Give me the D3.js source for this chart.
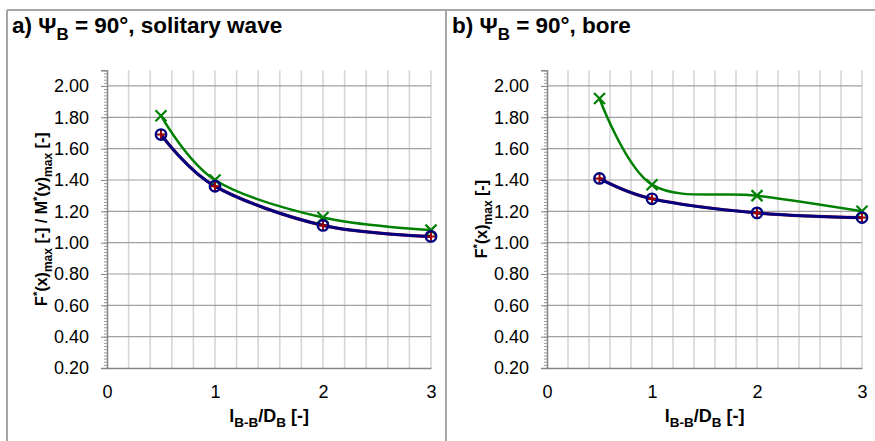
<!DOCTYPE html>
<html>
<head>
<meta charset="utf-8">
<script src="https://cdn.jsdelivr.net/npm/d3@7"></script>
<style>
  body { margin: 0; background: #fff; }
  svg { display: block; font-family: Arial, "Liberation Sans", sans-serif; }
</style>
</head>
<body>
<script>
// data
const xValues = [0.5, 1, 2, 3];
const xTicks = [0, 1, 2, 3];
const yTicks = [0.2, 0.4, 0.6, 0.8, 1.0, 1.2, 1.4, 1.6, 1.8, 2.0];

// panel a) solitary wave
const aGreen = [1.81, 1.40, 1.16, 1.08];
const aBlue  = [1.69, 1.36, 1.11, 1.04];
const aRed   = [1.69, 1.36, 1.11, 1.04];

// panel b) bore
const bGreen = [1.92, 1.37, 1.30, 1.20];
const bBlue  = [1.41, 1.28, 1.19, 1.16];
const bRed   = [1.41, 1.28, 1.19, 1.16];

const W = 875, H = 441;

const svg = d3.select("body").append("svg")
    .attr("width", W)
    .attr("height", H);

// panel frames
const frame = svg.append("g")
    .attr("stroke", "#a6a6a6")
    .attr("stroke-width", 2)
    .attr("fill", "none");
frame.append("line").attr("x1", 7).attr("x2", W).attr("y1", 10).attr("y2", 10);
frame.append("line").attr("x1", 7).attr("x2", 7).attr("y1", 10).attr("y2", H);
frame.append("line").attr("x1", 446).attr("x2", 446).attr("y1", 10).attr("y2", H);

function richText(sel, parts, size) {
  // parts: [text, kind] with kind "", "sub", "sup"
  let shift = 0;
  parts.forEach(function(p) {
    let target = 0, fs = size;
    if (p[1] === "sub") { target = size * 0.3; fs = size * 0.75; }
    if (p[1] === "sup") { target = -size * 0.4; fs = size * 0.72; }
    sel.append("tspan")
        .attr("dy", target - shift)
        .attr("font-size", fs)
        .text(p[0]);
    shift = target;
  });
}

function drawPanel(opt) {
  const g = svg.append("g");

  const x = d3.scaleLinear().domain([0, 3]).range([opt.left, opt.right]);
  const y = d3.scaleLinear().domain([0.2, 2.1]).range([368, 70.3]);

  // title
  const title = g.append("text")
      .attr("x", opt.titleX)
      .attr("y", 33)
      .attr("font-size", 22.5)
      .attr("font-weight", "bold")
      .attr("fill", "#000");
  richText(title, [[opt.titleA, ""], ["B", "sub"], [opt.titleB, ""]], 22.5);

  // vertical minor gridlines every 0.2
  g.append("g")
    .selectAll("line")
    .data(d3.range(1, 16).map(function(i) { return i * 0.2; }))
    .enter().append("line")
      .attr("x1", function(d) { return x(d); })
      .attr("x2", function(d) { return x(d); })
      .attr("y1", y(2.1))
      .attr("y2", y(0.2))
      .attr("stroke", "#d4d4d4")
      .attr("stroke-width", 1.5);

  // horizontal major gridlines
  g.append("g")
    .selectAll("line")
    .data(yTicks.slice(1))
    .enter().append("line")
      .attr("x1", x(0))
      .attr("x2", x(3))
      .attr("y1", function(d) { return y(d); })
      .attr("y2", function(d) { return y(d); })
      .attr("stroke", "#a0a0a0")
      .attr("stroke-width", 1.2);

  // y axis with minor ticks
  const minor = d3.range(10, 106).map(function(i) { return i * 0.02; });
  g.append("g")
    .attr("transform", "translate(" + x(0) + ",0)")
    .call(d3.axisLeft(y).tickValues(minor).tickSize(3).tickFormat(""))
    .call(function(a) {
      a.select(".domain").remove();
      a.selectAll("line").attr("stroke", "#9a9a9a");
    });
  g.append("g")
    .attr("transform", "translate(" + x(0) + ",0)")
    .call(d3.axisLeft(y).tickValues(yTicks).tickSize(6).tickPadding(12)
      .tickFormat(d3.format(".2f")))
    .call(function(a) {
      a.select(".domain").attr("stroke", "#868686").attr("stroke-width", 1.5);
      a.selectAll("line").attr("stroke", "#868686");
      a.selectAll("text").attr("font-size", 18).attr("fill", "#000")
        .attr("font-family", "Arial, 'Liberation Sans', sans-serif");
    });

  // x axis
  g.append("g")
    .attr("transform", "translate(0," + y(0.2) + ")")
    .call(d3.axisBottom(x).tickValues(xTicks).tickSize(0).tickPadding(17)
      .tickFormat(d3.format("d")))
    .call(function(a) {
      a.select(".domain").attr("stroke", "#868686").attr("stroke-width", 1.5);
      a.selectAll("text").attr("font-size", 18).attr("fill", "#000")
        .attr("font-family", "Arial, 'Liberation Sans', sans-serif");
    });

  // axis titles
  const xt = g.append("text")
      .attr("x", (opt.left + opt.right) / 2)
      .attr("y", 422)
      .attr("text-anchor", "middle")
      .attr("font-size", 18)
      .attr("font-weight", "bold");
  richText(xt, [["l", ""], ["B-B", "sub"], ["/D", ""], ["B", "sub"], [" [-]", ""]], 18);

  const yt = g.append("text")
      .attr("transform", "translate(" + opt.yLabelX + "," + y(1.15) + ") rotate(-90)")
      .attr("text-anchor", "middle")
      .attr("font-size", 16)
      .attr("font-weight", "bold");
  richText(yt, opt.yLabel, 16);

  const line = d3.line()
      .x(function(d, i) { return x(xValues[i]); })
      .y(function(d) { return y(d); })
      .curve(d3.curveCardinal.tension(0));

  // lines
  g.append("path").datum(opt.red)
      .attr("d", line).attr("fill", "none")
      .attr("stroke", "#8b1a3a").attr("stroke-width", 3.2);
  g.append("path").datum(opt.blue)
      .attr("d", line).attr("fill", "none")
      .attr("stroke", "#000080").attr("stroke-width", 2.8);
  g.append("path").datum(opt.green)
      .attr("d", line).attr("fill", "none")
      .attr("stroke", "#008000").attr("stroke-width", 2.5);

  // markers: green crosses
  const s = 5.5;
  g.append("g").selectAll("path")
    .data(opt.green)
    .enter().append("path")
      .attr("d", function(d, i) {
        const cx = x(xValues[i]), cy = y(d);
        return "M" + (cx - s) + "," + (cy - s) + "L" + (cx + s) + "," + (cy + s) +
               "M" + (cx - s) + "," + (cy + s) + "L" + (cx + s) + "," + (cy - s);
      })
      .attr("stroke", "#008000").attr("stroke-width", 2.2).attr("fill", "none");

  // red plus
  g.append("g").selectAll("path")
    .data(opt.red)
    .enter().append("path")
      .attr("d", function(d, i) {
        const cx = x(xValues[i]), cy = y(d);
        return "M" + (cx - s) + "," + cy + "L" + (cx + s) + "," + cy +
               "M" + cx + "," + (cy - s) + "L" + cx + "," + (cy + s);
      })
      .attr("stroke", "#a00000").attr("stroke-width", 2).attr("fill", "none");

  // blue circles
  g.append("g").selectAll("circle")
    .data(opt.blue)
    .enter().append("circle")
      .attr("cx", function(d, i) { return x(xValues[i]); })
      .attr("cy", function(d) { return y(d); })
      .attr("r", 5.2)
      .attr("fill", "none")
      .attr("stroke", "#000080")
      .attr("stroke-width", 2.4);
}

drawPanel({
  left: 107, right: 431, titleX: 12, yLabelX: 47,
  titleA: "a) \u03A8", titleB: " = 90\u00B0, solitary wave",
  yLabel: [["F", ""], ["*", "sup"], ["(x)", ""], ["max", "sub"], [" [-] / M", ""],
           ["*", "sup"], ["(y)", ""], ["max", "sub"], [" [-]", ""]],
  green: aGreen, blue: aBlue, red: aRed
});

drawPanel({
  left: 547, right: 862, titleX: 452, yLabelX: 487,
  titleA: "b) \u03A8", titleB: " = 90\u00B0, bore",
  yLabel: [["F", ""], ["*", "sup"], ["(x)", ""], ["max", "sub"], [" [-]", ""]],
  green: bGreen, blue: bBlue, red: bRed
});
</script>
</body>
</html>
